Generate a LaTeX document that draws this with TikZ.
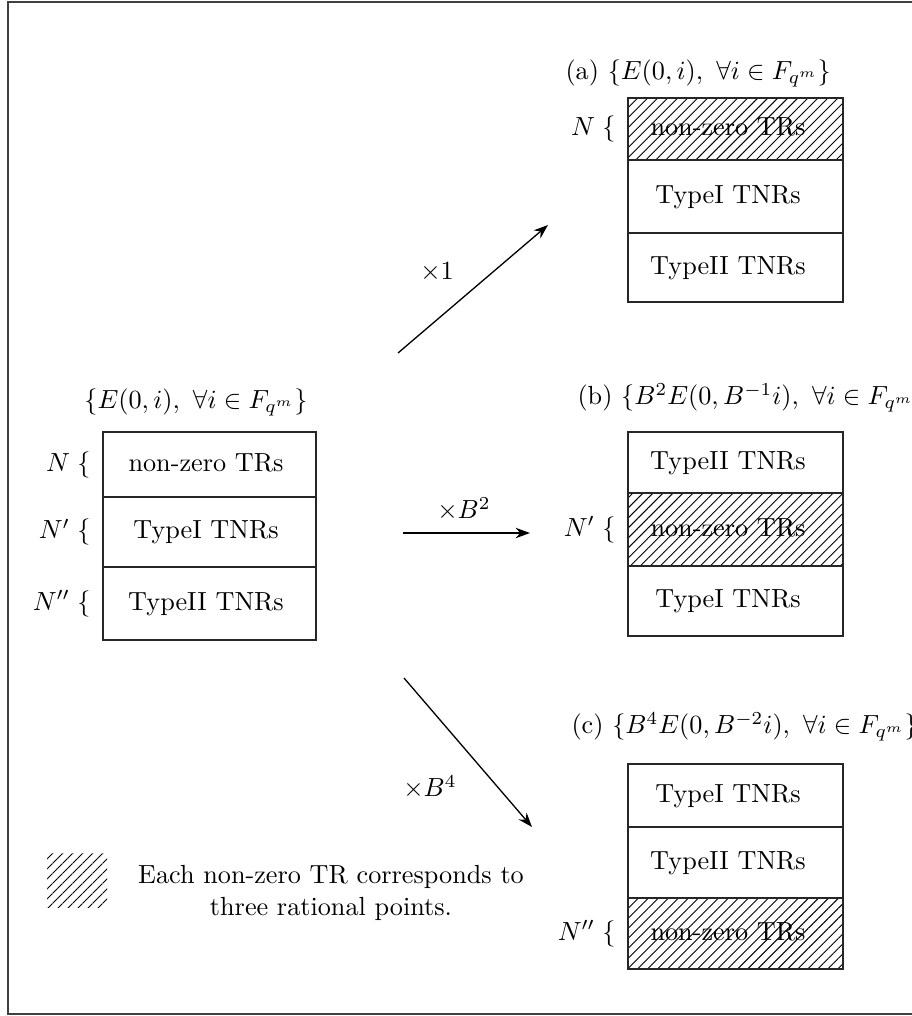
\documentclass[tikz,border=0pt]{standalone}
\usetikzlibrary{patterns.meta, arrows.meta}
\begin{document}
\begin{tikzpicture}[x=0.3815pt, y=-0.3815pt,
  every node/.style={inner sep=0pt},
  frame/.style={draw=black!75, line width=0.8pt},
  cell/.style={draw=black!85, line width=0.65pt},
  hatch/.style={pattern={Lines[angle=45,distance=2.7pt,line width=0.35pt]}},
  celltext/.style={text height=6.9pt, text depth=1.9pt},
  side/.style={anchor=east},
  conn/.style={line width=0.5pt, -{Stealth[length=5.5pt,width=4pt]}},
]
\useasboundingbox (0,0) rectangle (912,1016);
\clip (0,0) rectangle (912,1016);
\draw[frame] (8,2) rectangle (940,1014);

% source block
\node (t0) at (196,402) {$\{E(0,i),\ \forall i\in F_{q^m}\}$};
\draw[cell] (103,432) rectangle (316,497);
\draw[cell] (103,497) rectangle (316,567);
\draw[cell] (103,567) rectangle (316,640);
\node[celltext] (s1) at (206,464.5) {non-zero TRs};
\node[celltext] (s2) at (206,532) {TypeI TNRs};
\node[celltext] (s3) at (206,603.5) {TypeII TNRs};
\node[side] (sn1) at (91,464.5) {$N\;\{$};
\node[side] (sn2) at (91,532) {$N'\;\{$};
\node[side] (sn3) at (91,603.5) {$N''\;\{$};

% block (a)
\node[anchor=west] (ta) at (565,73) {(a) $\{E(0,i),\ \forall i\in F_{q^m}\}$};
\fill[hatch] (628,98) rectangle (843,160);
\draw[cell] (628,98) rectangle (843,160);
\draw[cell] (628,160) rectangle (843,233);
\draw[cell] (628,233) rectangle (843,302);
\node[celltext] (a1) at (728,129) {non-zero TRs};
\node[celltext] (a2) at (728,196.5) {TypeI TNRs};
\node[celltext] (a3) at (728,267.5) {TypeII TNRs};
\node[side] (an1) at (616,129) {$N\;\{$};

% block (b)
\node[anchor=west] (tb) at (577,398) {(b) $\{B^2E(0,B^{-1}i),\ \forall i\in F_{q^m}\}$};
\draw[cell] (628,432) rectangle (843,493);
\fill[hatch] (628,493) rectangle (843,566);
\draw[cell] (628,493) rectangle (843,566);
\draw[cell] (628,566) rectangle (843,636);
\node[celltext] (b1) at (728,462.5) {TypeII TNRs};
\node[celltext] (b2) at (728,529.5) {non-zero TRs};
\node[celltext] (b3) at (728,601) {TypeI TNRs};
\node[side] (bn2) at (616,529.5) {$N'\;\{$};

% block (c)
\node[anchor=west] (tc) at (571,727) {(c) $\{B^4E(0,B^{-2}i),\ \forall i\in F_{q^m}\}$};
\draw[cell] (628,764) rectangle (843,827);
\draw[cell] (628,827) rectangle (843,898);
\fill[hatch] (628,898) rectangle (843,969);
\draw[cell] (628,898) rectangle (843,969);
\node[celltext] (c1) at (728,795.5) {TypeI TNRs};
\node[celltext] (c2) at (728,862.5) {TypeII TNRs};
\node[celltext] (c3) at (728,933.5) {non-zero TRs};
\node[side] (cn3) at (616,933.5) {$N''\;\{$};

% mappings
\coordinate (u0) at (398,353);
\coordinate (u1) at (548,225);
\draw[conn] (u0) -- (u1);
\node (m1) at (437,272) {$\times 1$};
\coordinate (v0) at (403,533);
\coordinate (v1) at (530,533);
\draw[conn] (v0) -- (v1);
\node (m2) at (464,509) {$\times B^2$};
\coordinate (w0) at (404,678);
\coordinate (w1) at (532,827);
\draw[conn] (w0) -- (w1);
\node (m3) at (430,787) {$\times B^4$};

% legend
\fill[hatch] (47,853) rectangle (107,907);
\node[align=center] (key) at (331,893) {Each non-zero TR corresponds to\\three rational points.};
\end{tikzpicture}
\end{document}
